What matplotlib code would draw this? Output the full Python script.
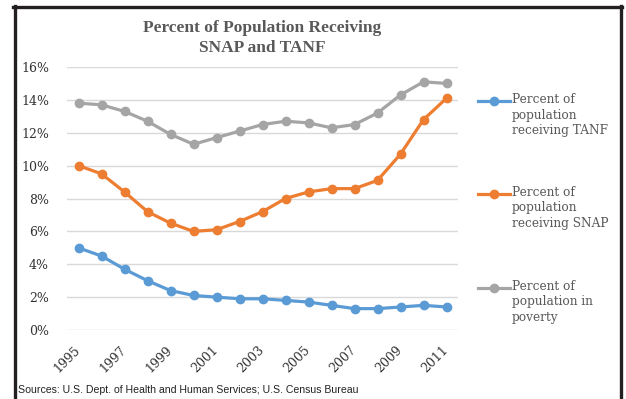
import matplotlib
matplotlib.use("Agg")
import matplotlib.pyplot as plt
from matplotlib.lines import Line2D

years = list(range(1995, 2012))
tanf = [5.0, 4.5, 3.7, 3.0, 2.4, 2.1, 2.0, 1.9, 1.9, 1.8, 1.7, 1.5, 1.3, 1.3, 1.4, 1.5, 1.4]
snap = [10.0, 9.5, 8.4, 7.2, 6.5, 6.0, 6.1, 6.6, 7.2, 8.0, 8.4, 8.6, 8.6, 9.1, 10.7, 12.8, 14.1]
poverty = [13.8, 13.7, 13.3, 12.7, 11.9, 11.3, 11.7, 12.1, 12.5, 12.7, 12.6, 12.3, 12.5, 13.2, 14.3, 15.1, 15.0]
y_ticks = [0, 2, 4, 6, 8, 10, 12, 14, 16]
x_ticks = list(range(1995, 2012, 2))

series = [
    ("Percent of\npopulation\nreceiving TANF", tanf, "#5B9BD5"),
    ("Percent of\npopulation\nreceiving SNAP", snap, "#ED7D31"),
    ("Percent of\npopulation in\npoverty", poverty, "#A5A5A5"),
]

W, H = 626, 399
fig = plt.figure(figsize=(W / 100, H / 100), dpi=100)
fig.patch.set_facecolor("white")


def fx(px):
    return px / W


def fy(py):
    return 1 - py / H


ax = fig.add_axes([fx(67), fy(330), fx(458) - fx(67), fy(67) - fy(330)])
for _, values, color in series:
    ax.plot(years, values, color=color, linewidth=2.3, marker="o", markersize=6, zorder=3)

ax.set_xlim(1994.5, 2011.5)
ax.set_ylim(0, 16)
ax.set_yticks(y_ticks)
ax.set_yticklabels([f"{v}%" for v in y_ticks])
ax.set_xticks(x_ticks)
ax.set_xticklabels([str(x) for x in x_ticks], rotation=45, ha="right", va="center",
                   rotation_mode="anchor")
ax.tick_params(axis="both", length=0, labelsize=9, labelcolor="#333333",
               labelfontfamily="DejaVu Serif")
ax.tick_params(axis="y", pad=13)
ax.tick_params(axis="x", pad=13)
ax.grid(axis="y", color="#D9D9D9", linewidth=1)
ax.set_axisbelow(True)
for spine in ax.spines.values():
    spine.set_visible(False)

ax.set_title("Percent of Population Receiving\nSNAP and TANF", fontsize=12.5,
             fontweight="bold", color="#595959", family="Liberation Serif",
             linespacing=1.3, pad=11)

# legend drawn by hand to match spacing
legend_rows = [101, 194, 288]
for (label, _, color), row in zip(series, legend_rows):
    fig.add_artist(Line2D([fx(478), fx(510)], [fy(row), fy(row)], color=color,
                          linewidth=2.3, transform=fig.transFigure))
    fig.add_artist(Line2D([fx(494)], [fy(row)], color=color, marker="o",
                          markersize=6, transform=fig.transFigure))
    fig.text(fx(512), fy(row - 8), label, ha="left", va="top", fontsize=8.7,
             color="#595959", family="DejaVu Serif", linespacing=1.25)

fig.text(fx(18), fy(390), "Sources: U.S. Dept. of Health and Human Services; U.S. Census Bureau",
         ha="left", va="center", fontsize=7.6, color="#222222",
         family=["Liberation Sans Narrow", "Liberation Sans", "DejaVu Sans"])

# outer frame
frame_color = "#231F20"
fig.add_artist(Line2D([fx(14.5), fx(14.5)], [0, fy(6)], color=frame_color, linewidth=2.4,
                      transform=fig.transFigure))
fig.add_artist(Line2D([fx(13.3), fx(621.5)], [fy(7), fy(7)], color=frame_color, linewidth=2.4,
                      transform=fig.transFigure))
fig.add_artist(Line2D([fx(620.5), fx(620.5)], [0, fy(6)], color=frame_color, linewidth=2.4,
                      transform=fig.transFigure))

fig.savefig("out.png", dpi=100)
